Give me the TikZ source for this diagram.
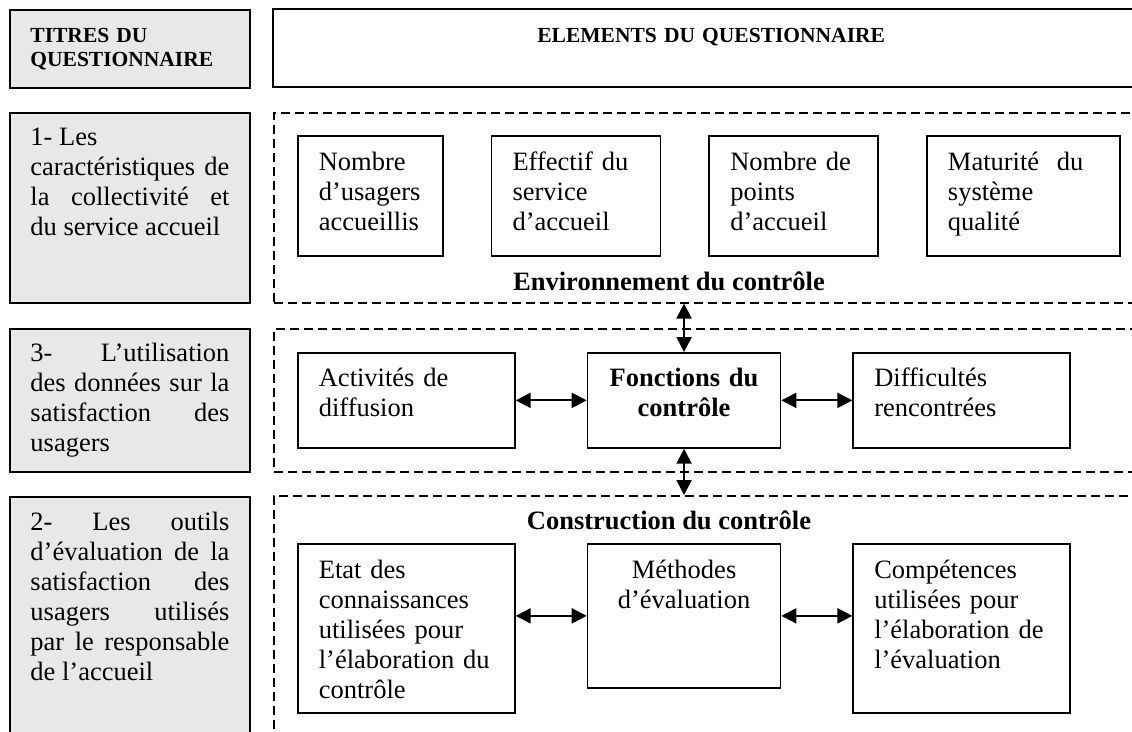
\documentclass[tikz,border=0pt]{standalone}
\usepackage{fontspec}
\setmainfont{Liberation Serif}
\usepackage{tikz}
\usetikzlibrary{arrows.meta,positioning}

\newcommand{\petit}{\fontsize{21.5}{24}\selectfont}
\newcommand{\moyen}{\fontsize{26.5}{30}\selectfont}
\hyphenpenalty=10000
\exhyphenpenalty=10000
\tolerance=10000

\begin{document}
\begin{tikzpicture}[x=1pt,y=-1pt,>={Triangle[length=15pt,width=15pt]}]
\tikzstyle{every node}=[font=\moyen,inner sep=0pt]
\tikzstyle{titre}=[draw,line width=1.9pt,fill=black!9,anchor=north west,
  text width=199pt,inner xsep=20.5pt,align=justify,text height=33pt]
\tikzstyle{cadre}=[draw,line width=1.7pt,anchor=north west,inner xsep=21pt,
  text height=35pt,align=left]
\tikzstyle{zone}=[draw,dash pattern=on 9pt off 5pt,line width=1.5pt,
  anchor=north west,minimum width=900pt]
\tikzstyle{lien}=[<->,line width=2.2pt]

\useasboundingbox (0,0) rectangle (1132,731);
\clip (0,0) rectangle (1132,731);

% en-tete
\node[titre,font=\petit\bfseries,align=left,text depth=45pt] (titres) at (9,9)
  {TITRES DU\\QUESTIONNAIRE};
\node[anchor=north west,font=\petit\bfseries,text width=876pt,align=center,
  text height=33pt,text depth=45pt] (elements) at (273,9) {ELEMENTS DU QUESTIONNAIRE};
\draw[line width=1.9pt] (elements.north west) rectangle ([xshift=60pt]elements.south east);

% zones en pointilles
\node[zone,minimum height=190pt] (environ) at (273,112) {};
\node[zone,minimum height=143pt] (fonct)   at (273,328) {};
\node[zone,minimum height=300pt] (constr)  at (273,495) {};

% titres du questionnaire
\node[titre,text depth=157pt] (carac) at (9,112)
  {1- Les\\caractéristiques de\linebreak la collectivité et\linebreak du service accueil};
\node[titre,text depth=110pt] (utilis) at (9,328)
  {3- L'utilisation\linebreak des données sur la\linebreak satisfaction des\linebreak usagers};
\node[titre,text height=34pt,text depth=250pt] (outils) at (9,496)
  {2- Les outils\linebreak d'évaluation de la\linebreak satisfaction des\linebreak usagers utilisés\linebreak par le responsable\linebreak de l'accueil};

% environnement
\node[cadre,text width=103pt,text depth=85pt]  (usagers)  at (297,135)        {Nombre\\d'usagers\\accueillis};
\node[cadre,text width=127pt,text depth=85pt,right=47pt of usagers]  (effectif) {Effectif du\\service\\d'accueil};
\node[cadre,text width=127pt,text depth=85pt,right=47pt of effectif] (points)   {Nombre de\\points\\d'accueil};
\node[cadre,text width=151pt,text depth=85pt,right=47pt of points]   (maturite) {Maturité\ \ du\\système\\qualité};
\node[font=\moyen\bfseries,anchor=base] (envtxt) at (669,290) {Environnement du contrôle};

% fonctions
\node[cadre,text width=175pt,text height=34pt,text depth=61pt] (diffusion) at (297,352) {Activités de\\diffusion};
\node[cadre,text width=183pt,inner xsep=5pt,text height=34pt,text depth=61pt,align=center,
  font=\moyen\bfseries,right=71pt of diffusion] (fonctions) {Fonctions du\\contrôle};
\node[cadre,text width=175pt,text height=34pt,text depth=61pt,right=71pt of fonctions] (difficultes) {Difficultés\\rencontrées};

% construction
\node[font=\moyen\bfseries,anchor=base] (constxt) at (669,529) {Construction du contrôle};
\node[cadre,text width=175pt,text depth=134pt] (connaissances) at (297,543)
  {Etat des\\connaissances\\utilisées pour\\l'élaboration du\\contrôle};
\node[cadre,text width=183pt,inner xsep=5pt,text depth=109pt,align=center]
  (methodes) at ([xshift=71pt]connaissances.north east) {Méthodes\\d'évaluation};
\node[cadre,text width=175pt,text depth=134pt]
  (competences) at ([xshift=71pt]methodes.north east) {Compétences\\utilisées pour\\l'élaboration de\\l'évaluation};

\path[lien]
(diffusion) edge (fonctions)
(fonctions) edge (difficultes)
(fonctions.north) edge (fonctions.north |- environ.south)
(fonctions.south) edge (fonctions.south |- constr.north)
(methodes.west) edge (methodes.west -| connaissances.east)
(methodes.east) edge (methodes.east -| competences.west);
\end{tikzpicture}
\end{document}
